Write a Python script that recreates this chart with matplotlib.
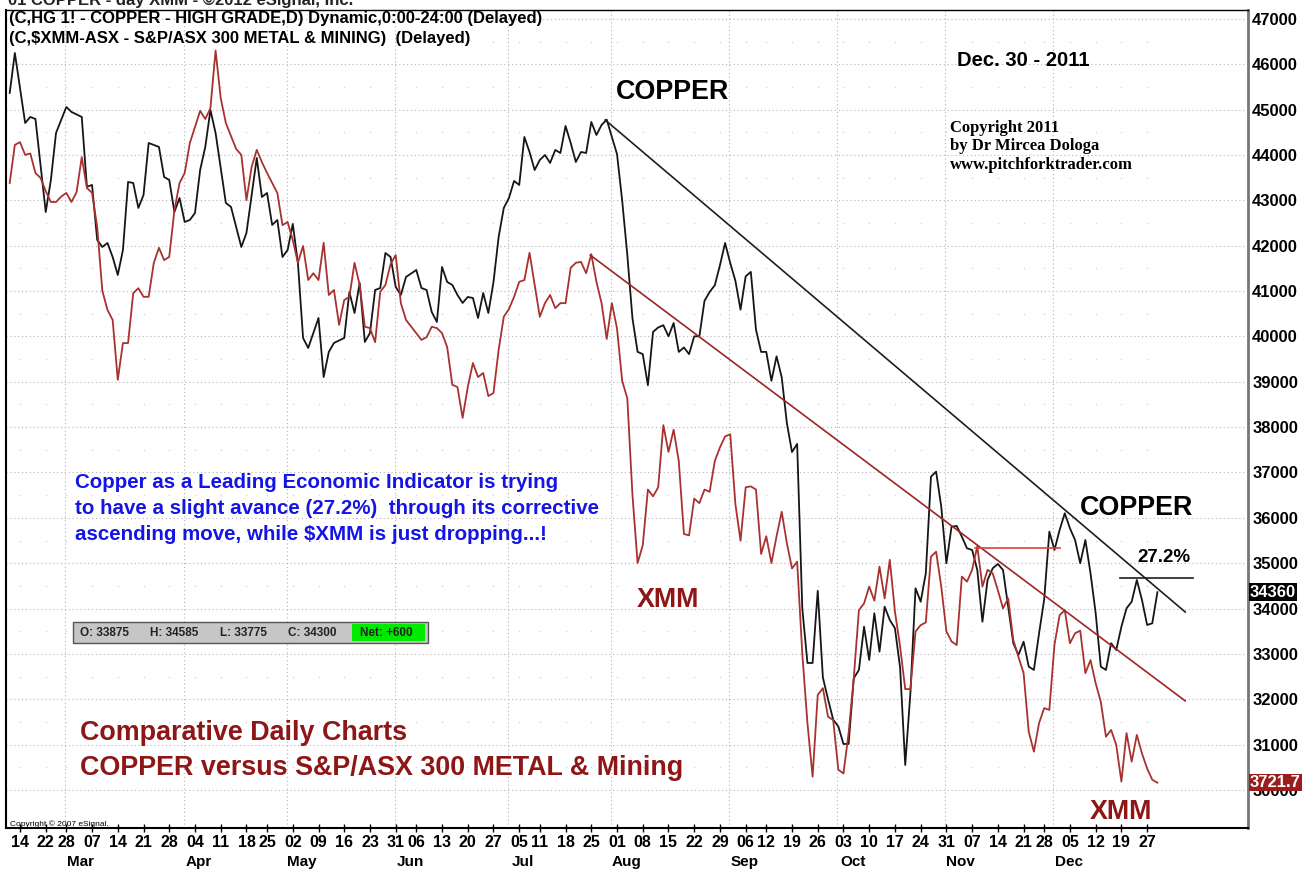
import numpy as np
import pandas as pd
import matplotlib
matplotlib.use("Agg")
import matplotlib.pyplot as plt
from matplotlib.patches import Rectangle
from matplotlib.transforms import blended_transform_factory

plt.rcParams['font.family'] = ['Liberation Sans', 'DejaVu Sans']

# trading days on the chart, exchange holidays left out
holidays = ['2011-02-21', '2011-04-22', '2011-05-30', '2011-07-04',
            '2011-09-05', '2011-11-24', '2011-12-26']
days = pd.bdate_range('2011-02-10', '2011-12-30')
days = days[~days.isin(pd.to_datetime(holidays))]

# HG 1! copper daily close, bar number -> value
copper_bar = [0, 1, 3, 4, 5, 7, 8, 9, 11, 12, 14, 15, 16, 17, 18, 19, 20, 21, 22, 23,
              24, 25, 26, 27, 29, 30, 31, 32, 33, 34, 35, 36, 37, 38, 39, 40, 42, 43,
              45, 46, 48, 49, 50, 51, 52, 53, 54, 55, 56, 57, 58, 60, 61, 62, 63, 65,
              66, 67, 68, 69, 70, 71, 72, 73, 74, 75, 76, 77] + list(range(79, 224))
copper = [45370, 46250, 44707, 44839, 44795, 42744, 43450, 44486, 45060, 44950,
          44840, 43300, 43340, 42127, 41973, 42061, 41752, 41355, 41906, 43406,
          43384, 42833, 43119, 44266, 44178, 43516, 43450, 42744, 43053, 42524,
          42568, 42722, 43670, 44178, 44993, 44486, 42943, 42855, 41973, 42281,
          43935, 43075, 43163, 42458, 42568, 41752, 41906, 42480, 41620, 39966,
          39746, 40407, 39106, 39657, 39856, 39966, 40980, 40517, 41179, 39878,
          40076, 41024, 41068, 41840, 41752, 41091, 40914, 41311,
          41465, 41068, 41024, 40539, 40319, 41532, 41201, 41135, 40914, 40738,
          40870, 40848, 40407, 40958, 40517, 41201, 42193, 42833, 43053, 43428,
          43340, 44398, 44067, 43670, 43891, 44001, 43825, 44112, 44045, 44641,
          44266, 43847, 44067, 44045, 44729, 44442, 44663, 44780, 44400, 44020,
          43000, 41800, 40400, 39660, 39610, 38924, 40100, 40198, 40247, 40002,
          40296, 39659, 39757, 39610, 40002, 40002, 40786, 40982, 41129, 41570,
          42060, 41619, 41227, 40590, 41325, 41423, 40149, 39659, 39659, 39022,
          39561, 39100, 38091, 37450, 37630, 34000, 32800, 32800, 34390, 32480,
          32000, 31550, 31400, 31014, 31014, 32462, 32646, 33600, 32866, 33896,
          33049, 34041, 33748, 33565, 32700, 30551, 32131, 34447, 34151, 34778,
          36908, 37018, 36246, 35000, 35806, 35821, 35585, 35329, 35292, 34850,
          33710, 34630, 34888, 34983, 34850, 34041, 33235, 32976, 33270, 32718,
          32646, 33450, 34200, 35695, 35292, 35733, 36101, 35770, 35512, 34998,
          35512, 34778, 33900, 32718, 32646, 33235, 33087, 33600, 34006, 34151,
          34630, 34189, 33638, 33675, 34360]

# $XMM-ASX daily close
xmm_bar = (list(range(0, 36)) + list(range(37, 43)) + list(range(44, 51))
           + list(range(52, 78)) + list(range(80, 224)))
xmm = [5044, 5128, 5134, 5106, 5109, 5066, 5055, 5026, 5002, 5002,
       5014, 5022, 5002, 5024, 5101, 5033, 5022, 4947, 4806, 4764,
       4742, 4610, 4691, 4691, 4801, 4812, 4793, 4793, 4868, 4901,
       4874, 4881, 4984, 5044, 5066, 5132,
       5203, 5185, 5209, 5336, 5231, 5176,
       5119, 5106, 5006, 5079, 5117, 5090, 5066,
       5022, 4951, 4958, 4918, 4868, 4905, 4830, 4845, 4830, 4912,
       4797, 4808, 4731, 4786, 4793, 4868, 4819, 4727, 4724, 4693,
       4804, 4819, 4865, 4885, 4779, 4742,
       4698, 4704, 4727, 4724, 4713, 4682, 4599, 4594, 4526, 4594,
       4647, 4616, 4625, 4574, 4581, 4676, 4749, 4766, 4793, 4826,
       4830, 4890, 4819, 4749, 4779, 4797, 4768, 4779, 4779, 4857,
       4868, 4870, 4845, 4887, 4826, 4779, 4700, 4779, 4723, 4608,
       4569, 4356, 4206, 4245, 4368, 4353, 4373, 4510, 4451, 4500,
       4431, 4270, 4267, 4348, 4338, 4368, 4363, 4431, 4461, 4485,
       4490, 4336, 4255, 4373, 4375, 4368, 4226, 4265, 4206, 4265,
       4319, 4250, 4194, 4209, 4006, 3853, 3735, 3915, 3930, 3867,
       3860, 3750, 3742, 3831, 3952, 4102, 4117, 4154, 4123, 4198,
       4128, 4213, 4099, 4022, 3928, 3928, 4055, 4069, 4075, 4220,
       4231, 4154, 4055, 4033, 4025, 4176, 4165, 4191, 4243, 4154,
       4191, 4183, 4146, 4106, 4128, 4036, 3999, 3963, 3834, 3790,
       3853, 3886, 3882, 4026, 4091, 4102, 4029, 4051, 4057, 3963,
       3992, 3941, 3900, 3823, 3838, 3805, 3724, 3831, 3768, 3827,
       3786, 3753, 3728, 3721.7]

# overlay scale used for xmm: xmm = copper * xmm_scale + xmm_offset
xmm_scale = 0.1
xmm_offset = 705.6
copper_lo, copper_hi = 29161, 47198

# drawn lines
copper_trend_bar = [115.7, 228.4]
copper_trend = [44773, 33924]
xmm_trend_bar = [112.8, 228.4]
xmm_trend = [4885, 3902]
xmm_level_bar = [187.6, 204.1]
xmm_level = 4240
copper_level_bar = [215.8, 230.0]
copper_level = 34667

ohlc = [('O', 33875), ('H', 34585), ('L', 33775), ('C', 34300)]
net = '+600'
last_copper = '34360'
last_xmm = '3721.7'
y_ticks = list(range(30000, 47001, 1000))

DARKRED = '#8e1616'

W, H = 1308, 872
fig = plt.figure(figsize=(W / 100, H / 100), dpi=100)
ax = fig.add_axes([6 / W, 44 / H, 1242 / W, 818 / H])
ax2 = ax.twinx()


def at(x, y):
    # pixel position in the picture -> axes fraction
    return ((x - 6) / 1242, (828 - y) / 818)


ax.set_xlim(-0.72, 240.6)
ax.set_ylim(copper_lo, copper_hi)
ax2.set_ylim(copper_lo * xmm_scale + xmm_offset, copper_hi * xmm_scale + xmm_offset)
ax2.set_axis_off()

# weekly ticks on the first session of each week, months under them
wk = days.isocalendar().week.values
week_start = [i for i in range(1, len(days)) if wk[i] != wk[i - 1]]
month_start = [i for i in range(1, len(days)) if days[i].month != days[i - 1].month]

ax.set_xticks(week_start)
ax.set_xticklabels([days[i].strftime('%d') for i in week_start])
ax.tick_params(axis='x', direction='inout', length=6, width=1, labelsize=11.5, pad=2)
for lbl in ax.get_xticklabels():
    lbl.set_fontweight('bold')
tx = blended_transform_factory(ax.transData, ax.transAxes)
for i in month_start:
    ax.text(i + 1.8, -0.0415, days[i].strftime('%b'), transform=tx, ha='center',
            va='center', fontsize=11, fontweight='bold')

ax.yaxis.tick_right()
ax.set_yticks(y_ticks)
ax.set_yticklabels([str(v) for v in y_ticks])
ax.tick_params(axis='y', length=0, pad=3, labelsize=12)
for lbl in ax.get_yticklabels():
    lbl.set_fontweight('bold')

# grid
for v in y_ticks:
    ax.axhline(v, color='#b4b4b4', lw=0.8, ls=(0, (1, 2.5)), zorder=0)
for i in month_start:
    ax.axvline(i - 1.2, color='#b4b4b4', lw=0.8, ls=(0, (1, 2.5)), zorder=0)
gx, gy = np.meshgrid(week_start, np.array(y_ticks[:-1]) + 500)
ax.scatter(gx.ravel(), gy.ravel(), s=1.2, color='#d4d4d4', lw=0, zorder=0)

for s in ['top', 'left', 'bottom']:
    ax.spines[s].set_color('black')
ax.spines['top'].set_linewidth(1)
ax.spines['left'].set_linewidth(1.5)
ax.spines['bottom'].set_linewidth(1.5)
ax.spines['right'].set_color('#777777')
ax.spines['right'].set_linewidth(2)

# series
ax.plot(copper_bar, copper, color='#161616', lw=1.3, zorder=4)
ax2.plot(xmm_bar, xmm, color='#a83230', lw=1.3)

ax.plot(copper_trend_bar, copper_trend, color='#1e1e1e', lw=1.2, zorder=4)
ax.plot(copper_level_bar, [copper_level] * 2, color='#1e1e1e', lw=1.2, zorder=4)
ax2.plot(xmm_trend_bar, xmm_trend, color='#9a2626', lw=1.2)
ax2.plot(xmm_level_bar, [xmm_level] * 2, color='#d8423c', lw=1.2)

# last value tags on the price scale
ty = blended_transform_factory(ax.transAxes, ax.transData)
ax.text(1.0015, float(last_copper), last_copper, transform=ty, ha='left', va='center',
        color='white', fontsize=12, fontweight='bold', clip_on=False, zorder=6,
        bbox=dict(boxstyle='square,pad=0.08', fc='black', ec='none'))
ty2 = blended_transform_factory(ax2.transAxes, ax2.transData)
ax2.text(1.0015, float(last_xmm), last_xmm, transform=ty2, ha='left', va='center',
         color='white', fontsize=12, fontweight='bold', clip_on=False, zorder=6,
         bbox=dict(boxstyle='square,pad=0.08', fc='#9b1c1c', ec='none'))

# headers
ta = ax.transAxes
fig.text(8 / W, 1.0, '01 COPPER - day XMM - \u00a92012 eSignal, Inc.', ha='left',
         va='center', fontsize=12, fontweight='bold', color='#222222')
ax.text(*at(9, 18), '(C,HG 1! - COPPER - HIGH GRADE,D) Dynamic,0:00-24:00 (Delayed)',
        transform=ta, ha='left', va='center', fontsize=12, fontweight='bold')
ax.text(*at(9, 38), '(C,$XMM-ASX - S&P/ASX 300 METAL & MINING)  (Delayed)',
        transform=ta, ha='left', va='center', fontsize=12, fontweight='bold')

ax.text(*at(957, 60), 'Dec. 30 - 2011', transform=ta, ha='left', va='center',
        fontsize=14.6, fontweight='bold')
for k, line in enumerate(['Copyright 2011', 'by Dr Mircea Dologa', 'www.pitchforktrader.com']):
    ax.text(*at(950, 128 + 18.5 * k), line, transform=ta, ha='left', va='center',
            fontsize=12, fontweight='bold', family='Liberation Serif')

ax.text(*at(616, 92), 'COPPER', transform=ta, ha='left', va='center',
        fontsize=19.4, fontweight='bold')
ax.text(*at(1080, 508), 'COPPER', transform=ta, ha='left', va='center',
        fontsize=19.4, fontweight='bold')
ax.text(*at(1137, 557), '27.2%', transform=ta, ha='left', va='center',
        fontsize=13.5, fontweight='bold')
ax.text(*at(637, 600), 'XMM', transform=ta, ha='left', va='center',
        fontsize=19.4, fontweight='bold', color=DARKRED)
ax.text(*at(1090, 812), 'XMM', transform=ta, ha='left', va='center',
        fontsize=19.4, fontweight='bold', color=DARKRED)

blue_lines = ['Copper as a Leading Economic Indicator is trying',
              'to have a slight avance (27.2%)  through its corrective',
              'ascending move, while $XMM is just dropping...!']
for k, line in enumerate(blue_lines):
    ax.text(*at(75, 482 + 26.5 * k), line, transform=ta, ha='left', va='center',
            fontsize=14.8, fontweight='bold', color='#1414e6')

ax.text(*at(80, 733), 'Comparative Daily Charts', transform=ta, ha='left',
        va='center', fontsize=19.4, fontweight='bold', color=DARKRED)
ax.text(*at(80, 768), 'COPPER versus S&P/ASX 300 METAL & Mining', transform=ta,
        ha='left', va='center', fontsize=19.4, fontweight='bold', color=DARKRED)
ax.text(*at(10, 824), 'Copyright \u00a9 2007 eSignal.', transform=ta, ha='left',
        va='center', fontsize=6)

# quote box
x0, y0 = at(73, 643)
ax.add_patch(Rectangle((x0, y0), 355 / 1242, 21 / 818, transform=ta, fc='#c6c6c6',
                       ec='#555555', lw=1, zorder=5))
gx0, gy0 = at(352, 641)
ax.add_patch(Rectangle((gx0, gy0), 73 / 1242, 17 / 818, transform=ta, fc='#00ea00',
                       ec='none', zorder=5))
for (name, val), xp in zip(ohlc, [80, 150, 220, 288]):
    ax.text(*at(xp, 632.5), f'{name}: {val}', transform=ta, ha='left', va='center',
            fontsize=8.5, fontweight='bold', color='#222222', zorder=6)
ax.text(*at(360, 632.5), f'Net: {net}', transform=ta, ha='left', va='center',
        fontsize=8.5, fontweight='bold', color='#222222', zorder=6)

fig.savefig('out.png', dpi=100, facecolor='white')
